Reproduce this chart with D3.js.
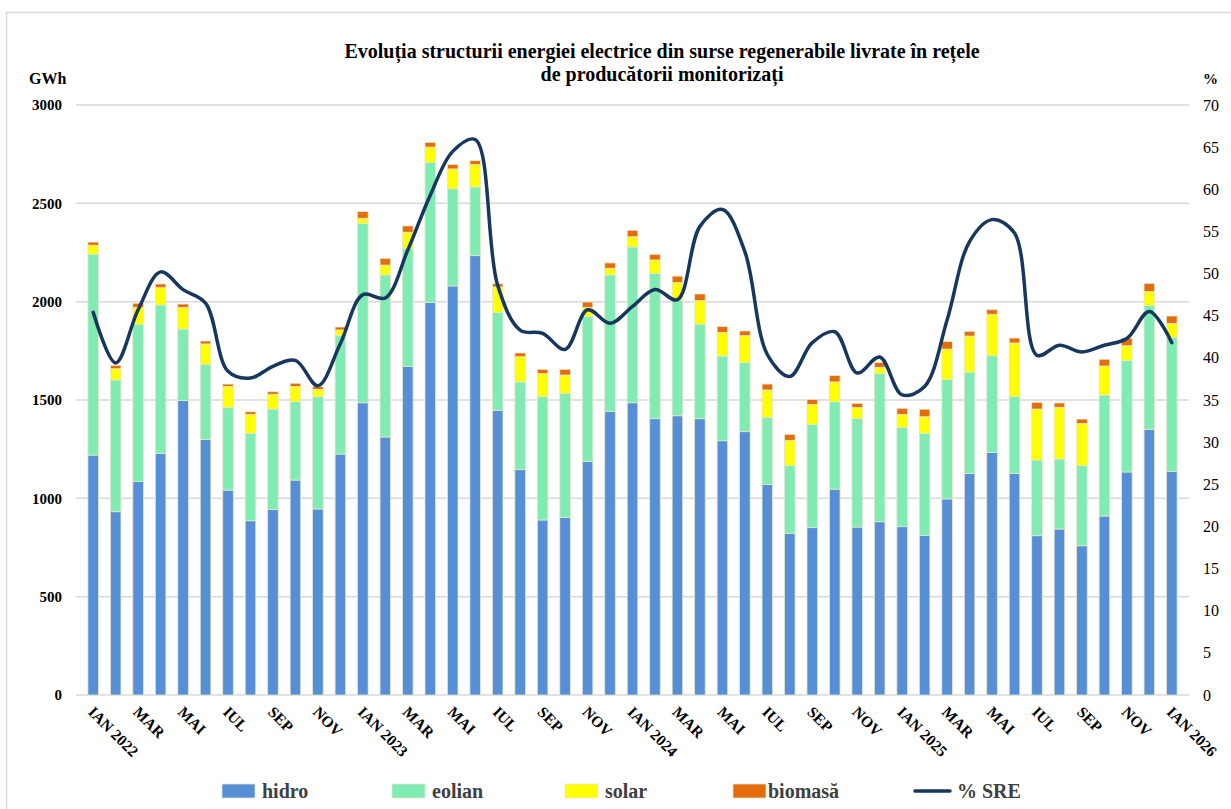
<!DOCTYPE html>
<html>
<head>
<meta charset="utf-8">
<script src="https://cdn.jsdelivr.net/npm/d3@7"></script>
<style>
  body { margin: 0; background: #fff; }
  svg text { font-family: "Liberation Serif", "DejaVu Serif", "Times New Roman", serif !important; }
</style>
</head>
<body>
<div id="chart"></div>
<script>
// luni, ian 2022 - ian 2026
const months = ["IAN 2022","FEB","MAR","APR","MAI","IUN","IUL","AUG","SEP","OCT","NOV","DEC",
  "IAN 2023","FEB","MAR","APR","MAI","IUN","IUL","AUG","SEP","OCT","NOV","DEC",
  "IAN 2024","FEB","MAR","APR","MAI","IUN","IUL","AUG","SEP","OCT","NOV","DEC",
  "IAN 2025","FEB","MAR","APR","MAI","IUN","IUL","AUG","SEP","OCT","NOV","DEC",
  "IAN 2026"];

// GWh
const hidro = [1220,932,1085,1229,1497,1300,1042,886,944,1093,946,1225,
  1486,1312,1671,1997,2080,2234,1448,1146,890,903,1187,1441,
  1486,1405,1420,1405,1293,1339,1071,822,851,1047,854,881,
  856,812,997,1127,1234,1127,810,844,759,910,1134,1351,
  1137];
const eolian = [1022,670,801,754,364,381,419,445,510,398,571,602,
  912,824,600,710,494,349,498,446,627,631,737,695,
  792,739,588,481,431,351,340,344,525,444,551,753,
  503,519,607,515,491,390,385,356,408,615,566,630,
  682];
const solar = [45,57,85,88,110,104,107,96,75,77,37,29,
  26,50,82,79,101,115,129,128,117,93,47,34,
  52,68,90,119,120,137,140,129,102,101,56,32,
  68,84,155,183,211,273,259,263,213,148,76,70,
  71];
const biomasa = [16,17,21,19,17,15,13,13,13,17,14,15,
  34,34,32,24,23,19,16,19,22,29,27,27,
  33,29,32,34,29,24,30,30,25,32,22,24,
  31,38,38,24,23,25,34,22,23,34,38,42,
  37];
// % SRE
const sre = [45.4,39.4,45.7,50.2,48.1,46.5,38.4,37.6,39.0,39.7,36.7,41.7,
  47.5,47.1,52.8,59.3,64.5,65.9,48.6,43.3,42.9,41.0,45.7,44.1,
  46.1,48.1,46.9,55.6,57.6,52.6,40.4,37.8,41.8,43.1,38.2,40.1,
  35.6,36.6,44.5,53.8,56.4,54.8,40.3,41.5,40.7,41.5,42.3,45.5,
  41.8];

const seriesNames = ["hidro","eolian","solar","biomasă"];
const seriesData = [hidro, eolian, solar, biomasa];
const colors = ["#568fd6","#80ebb3","#ffff00","#e46c0a"];
const leftTicks = [0,500,1000,1500,2000,2500,3000];
const rightTicks = [0,5,10,15,20,25,30,35,40,45,50,55,60,65,70];

const FONT = "Liberation Serif, DejaVu Serif, serif";
const W = 1231, H = 809;
const margin = {top: 105, right: 42, bottom: 114, left: 76};
const width = W - margin.left - margin.right,
      height = H - margin.top - margin.bottom;

const svg = d3.select("#chart").append("svg")
    .attr("width", W).attr("height", H)
    .attr("font-family", FONT);

// chenar exterior
svg.append("rect")
    .attr("x", 6.5).attr("y", 12.5)
    .attr("width", W).attr("height", H)
    .attr("fill", "none").attr("stroke", "#d9d9d9").attr("stroke-width", 1.5);

const g = svg.append("g").attr("transform", "translate(" + margin.left + "," + margin.top + ")");

const rows = months.map((m, i) => {
    const r = {i: i, m: m};
    seriesNames.forEach((s, k) => r[s] = seriesData[k][i]);
    return r;
});

const x = d3.scaleBand().domain(d3.range(months.length)).range([0, width]).padding(0.53);
const y = d3.scaleLinear().domain([0, 3000]).range([height, 0]);
const y2 = d3.scaleLinear().domain([0, 70]).range([height, 0]);

// grid
g.append("g").selectAll("line").data(leftTicks).enter().append("line")
    .attr("x1", 0).attr("x2", width)
    .attr("y1", d => y(d)).attr("y2", d => y(d))
    .attr("stroke", "#d9d9d9").attr("stroke-width", 1.5);

// axa stanga
const yAxis = g.append("g").call(d3.axisLeft(y).tickValues(leftTicks).tickFormat(d3.format("d")).tickSize(0).tickPadding(14))
    .attr("font-family", FONT);
yAxis.select(".domain").remove();
yAxis.selectAll("text").attr("font-size", 15).attr("font-weight", "bold").attr("fill", "#000");

// axa dreapta
const yAxis2 = g.append("g").attr("transform", "translate(" + width + ",0)")
    .call(d3.axisRight(y2).tickValues(rightTicks).tickSize(0).tickPadding(14))
    .attr("font-family", FONT);
yAxis2.select(".domain").remove();
yAxis2.selectAll("text").attr("font-size", 16).attr("fill", "#000");

// bare
const stack = d3.stack().keys(seriesNames)(rows);
g.append("g").selectAll("g").data(stack).enter().append("g")
    .attr("fill", (d, k) => colors[k])
    .selectAll("rect").data(d => d).enter().append("rect")
    .attr("x", d => x(d.data.i))
    .attr("y", d => y(d[1]))
    .attr("width", x.bandwidth())
    .attr("height", d => y(d[0]) - y(d[1]))
    .attr("stroke", "#e3e8cc").attr("stroke-width", 0.8);

// linie % SRE
const line = d3.line()
    .x((d, i) => x(i) + x.bandwidth() / 2)
    .y(d => y2(d))
    .curve(d3.curveCatmullRom.alpha(0.5));
g.append("path").datum(sre)
    .attr("d", line)
    .attr("fill", "none").attr("stroke", "#17375e").attr("stroke-width", 3.5)
    .attr("stroke-linejoin", "round").attr("stroke-linecap", "round");

// etichete axa X (din doua in doua luni)
g.append("g").selectAll("text")
    .data(rows.filter(d => d.i % 2 === 0)).enter().append("text")
    .attr("transform", d => "translate(" + (x(d.i) + x.bandwidth() / 2 - 6) + "," + (height + 18) + ") rotate(45)")
    .attr("font-size", 15.5).attr("font-weight", "bold").attr("fill", "#000")
    .text(d => d.m);

// titlu
const title = svg.append("text")
    .attr("x", 662).attr("y", 58)
    .attr("text-anchor", "middle").attr("font-size", 20).attr("font-weight", "bold");
title.append("tspan").attr("x", 662).text("Evoluția structurii energiei electrice din surse regenerabile livrate în rețele");
title.append("tspan").attr("x", 662).attr("dy", 23).text("de producătorii monitorizați");

svg.append("text").attr("x", 29).attr("y", 84)
    .attr("font-size", 16).attr("font-weight", "bold").text("GWh");
svg.append("text").attr("x", 1203).attr("y", 84)
    .attr("font-size", 15).attr("font-weight", "bold").text("%");

// legenda
const legend = svg.append("g").attr("transform", "translate(0,791)");
const legendX = [222, 392, 565, 733];
seriesNames.forEach((s, k) => {
    legend.append("rect").attr("x", legendX[k]).attr("y", -7).attr("width", 33).attr("height", 14)
        .attr("fill", colors[k]).attr("stroke", "#e3e8cc").attr("stroke-width", 0.8);
    legend.append("text").attr("x", legendX[k] + (k === 3 ? 35 : 40)).attr("y", 7)
        .attr("font-size", 20).attr("font-weight", "bold").attr("fill", "#404040").text(s);
});
legend.append("line").attr("x1", 915).attr("x2", 950).attr("y1", 0).attr("y2", 0)
    .attr("stroke", "#17375e").attr("stroke-width", 3.5).attr("stroke-linecap", "round");
legend.append("text").attr("x", 957).attr("y", 7)
    .attr("font-size", 20).attr("font-weight", "bold").attr("fill", "#404040").text("% SRE");
</script>
</body>
</html>
